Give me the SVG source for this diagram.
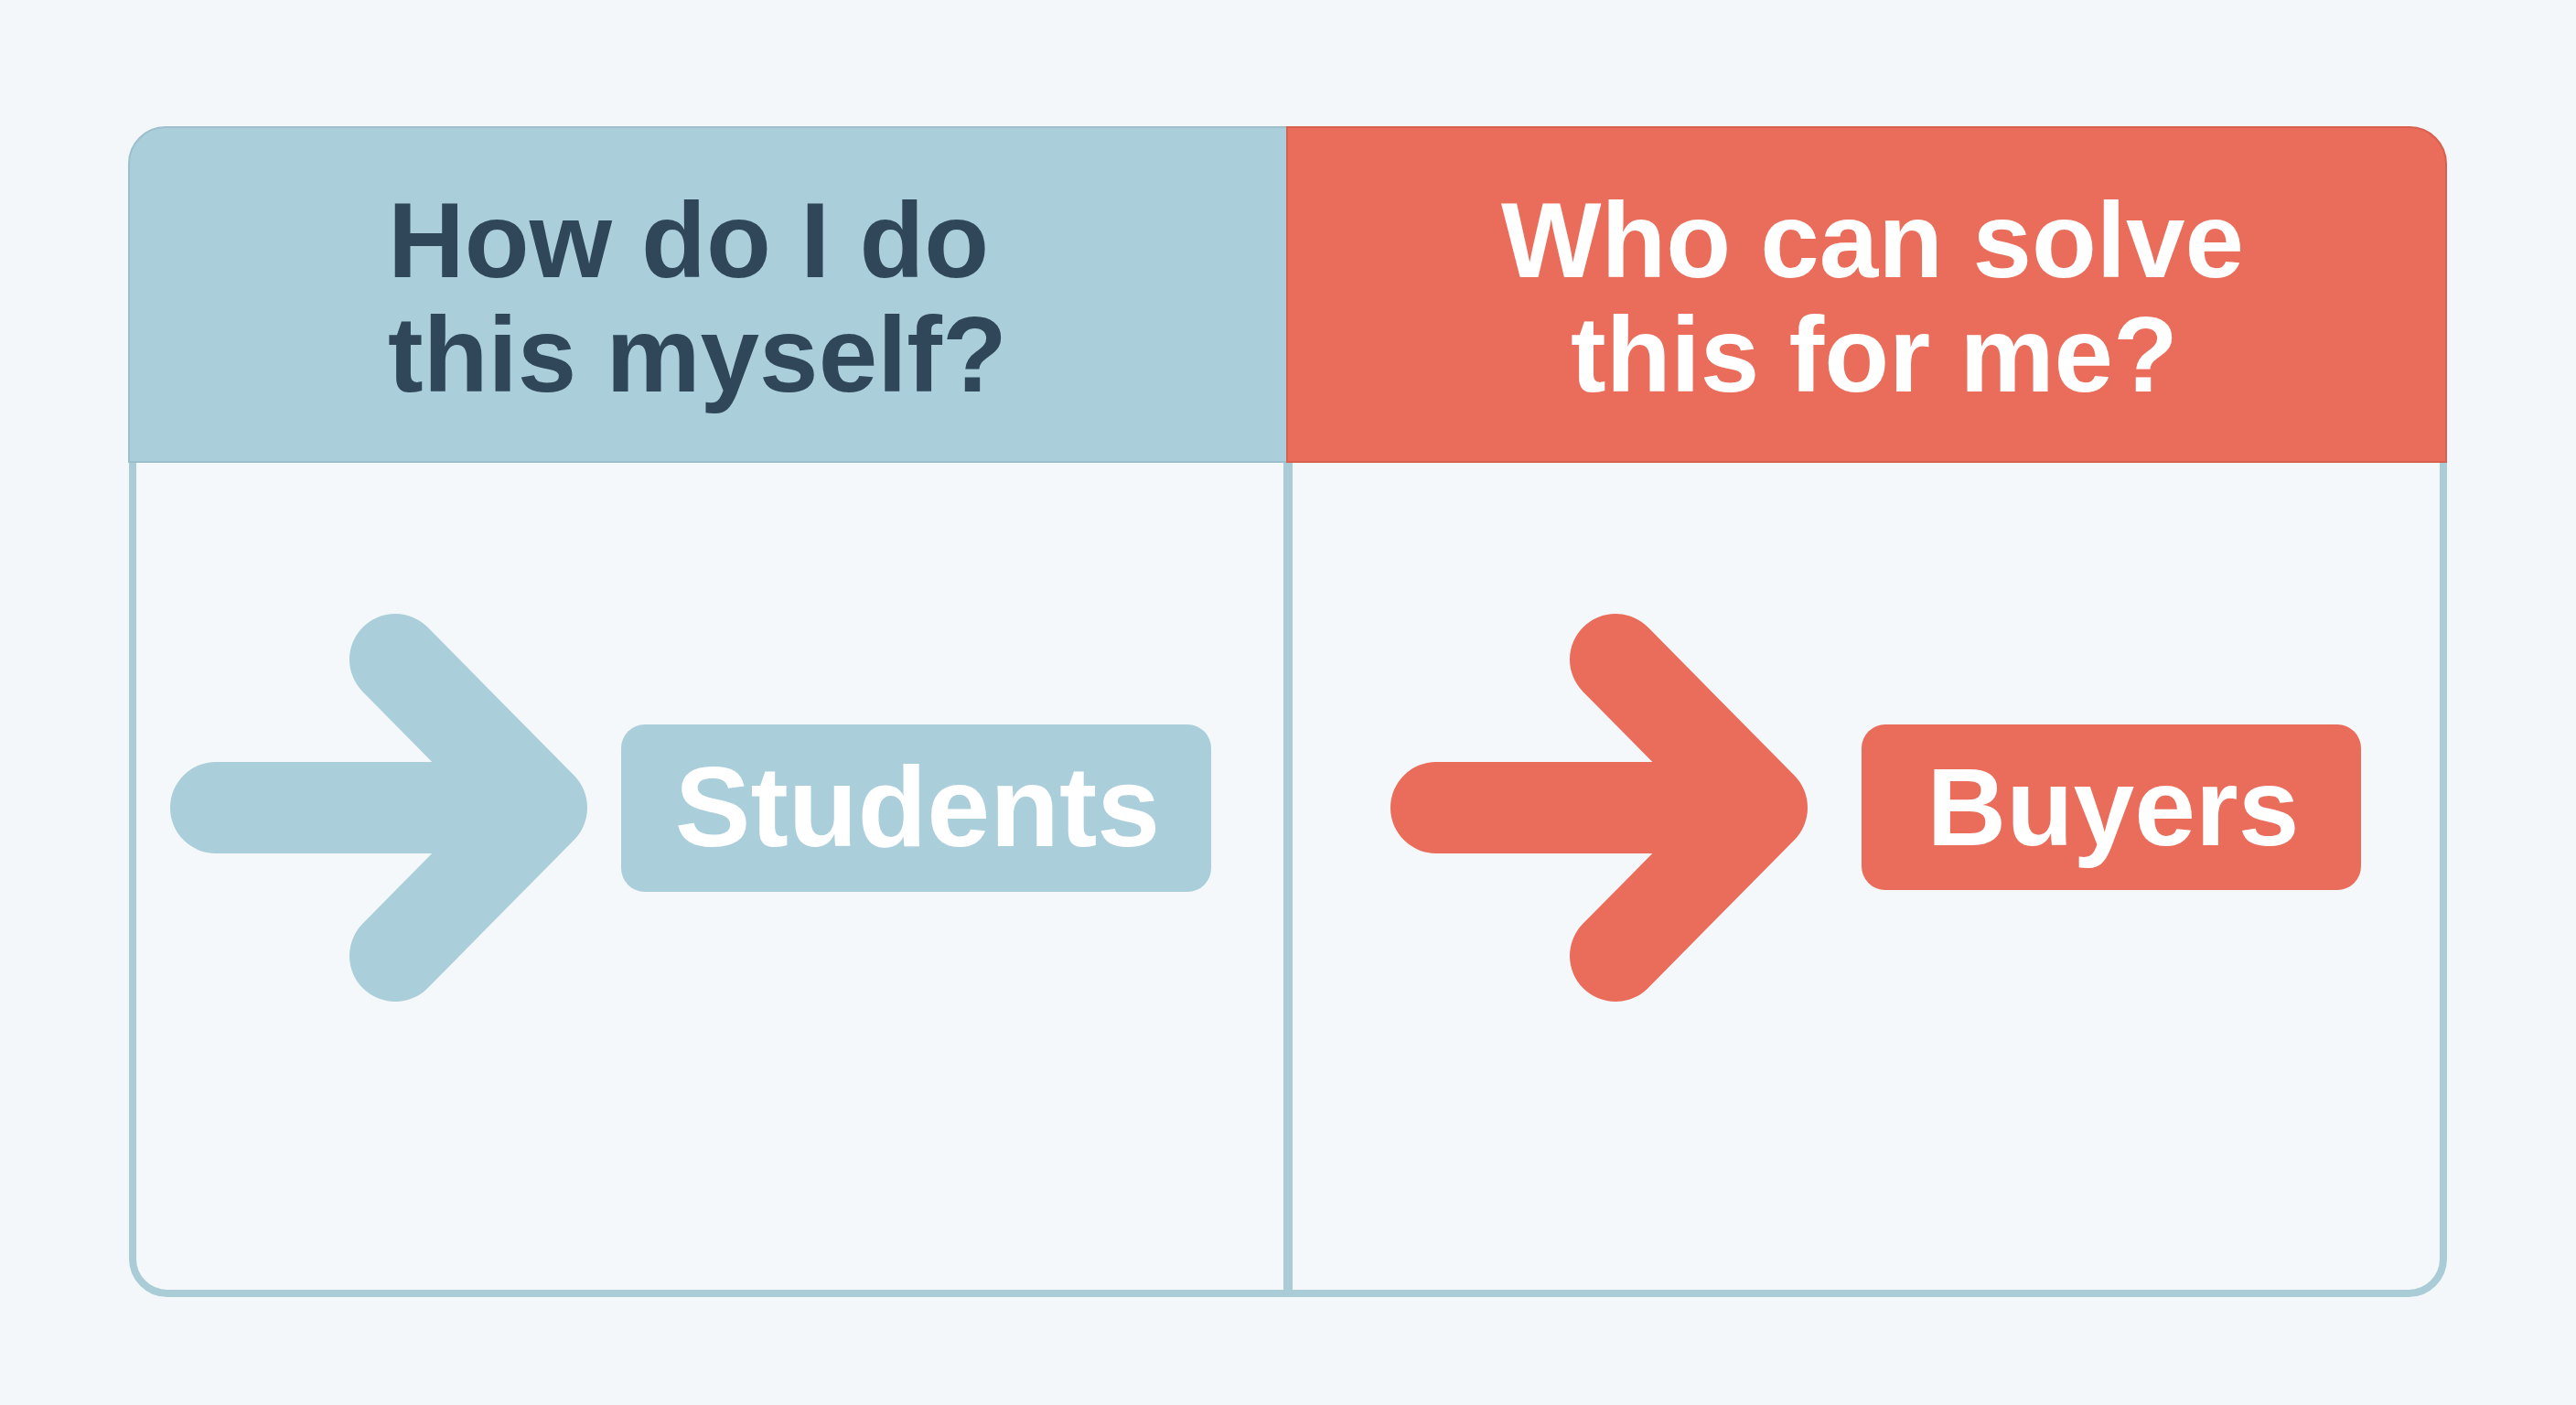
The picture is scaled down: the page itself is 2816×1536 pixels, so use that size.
<svg xmlns="http://www.w3.org/2000/svg" width="2816" height="1536" viewBox="0 0 2816 1536">
  <style>
    .hdr { font-family: "Liberation Sans", Arial, sans-serif; font-weight: 700; font-size: 116px; }
    .lbl { font-family: "Liberation Sans", Arial, sans-serif; font-weight: 700; fill: #FFFFFF; text-anchor: middle; }
    .arrow { fill: none; stroke-width: 100; stroke-linecap: round; stroke-linejoin: round; }
  </style>
  <rect x="0" y="0" width="2816" height="1536" fill="#F4F7F9"/>

  <g id="frame">
    <path d="M145,505 V1376 A38,38 0 0 0 183,1414 H2633 A38,38 0 0 0 2671,1376 V505" fill="#F5F8FA" stroke="#A9CCD6" stroke-width="8"/>
    <line x1="1408" y1="505" x2="1408" y2="1414" stroke="#A9CCD6" stroke-width="10"/>
  </g>

  <g id="header-left">
    <path d="M141,505 V179 A40,40 0 0 1 181,139 H1407 V505 Z" fill="#AACEDA" stroke="#9DBFCB" stroke-width="2"/>
    <text class="hdr" fill="#2F4758" x="424" y="303">How do I do</text>
    <text class="hdr" fill="#2F4758" x="424" y="428">this myself?</text>
  </g>

  <g id="header-right">
    <path d="M1407,139 H2634 A40,40 0 0 1 2674,179 V505 H1407 Z" fill="#EA6C5A" stroke="#D8604F" stroke-width="2"/>
    <text class="hdr" fill="#FFFFFF" text-anchor="middle" x="2047" y="303">Who can solve</text>
    <text class="hdr" fill="#FFFFFF" text-anchor="middle" x="2049" y="428">this for me?</text>
  </g>

  <g id="connectors">
    <path class="arrow" stroke="#AACEDA" d="M236,883 H592 M432,721 L592,883 L432,1045"/>
    <path class="arrow" stroke="#EA6C5A" d="M1570,883 H1926 M1766,721 L1926,883 L1766,1045"/>
  </g>

  <g id="students">
    <rect x="679" y="792" width="645" height="183" rx="26" fill="#AACEDA"/>
    <text class="lbl" font-size="124" x="1003" y="925">Students</text>
  </g>

  <g id="buyers">
    <rect x="2035" y="792" width="546" height="181" rx="26" fill="#EA6C5A"/>
    <text class="lbl" font-size="120" x="2310" y="924">Buyers</text>
  </g>
</svg>
